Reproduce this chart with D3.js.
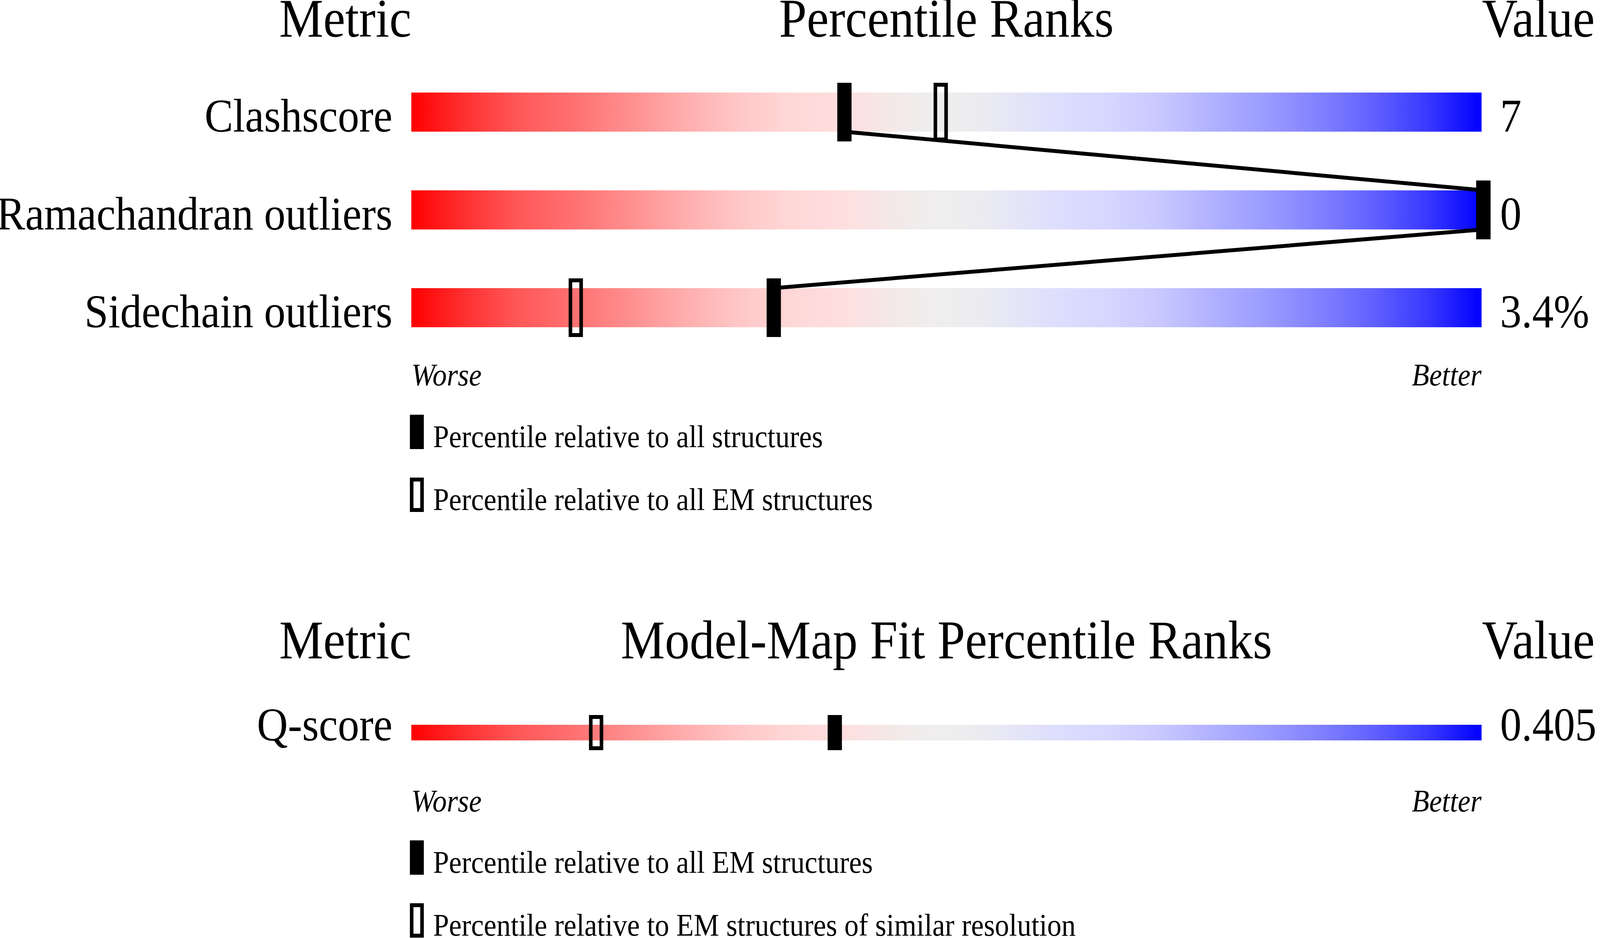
<!DOCTYPE html>
<html>
<head>
<meta charset="utf-8">
<script src="https://cdn.jsdelivr.net/npm/d3@7"></script>
<style>
  html, body { margin: 0; padding: 0; background: #ffffff; overflow: hidden; width: 100%; height: 100%; }
  svg { display: block; }
  text { font-family: "Liberation Serif", "Times New Roman", serif; fill: #000; }
</style>
</head>
<body>
<script>
// ---------------- data ----------------
const headers1 = ["Metric", "Percentile Ranks", "Value"];
const metrics = ["Clashscore", "Ramachandran outliers", "Sidechain outliers"];
const metricValues = ["7", "0", "3.4%"];
const pctAll = [40.3, 100, 33.7];   // percentile relative to all structures
const pctEM = [49.3, 100, 15.2];    // percentile relative to all EM structures
const legend1 = ["Percentile relative to all structures", "Percentile relative to all EM structures"];

const headers2 = ["Metric", "Model-Map Fit Percentile Ranks", "Value"];
const fitMetrics = ["Q-score"];
const fitValues = ["0.405"];
const fitPctEM = [39.4];            // percentile relative to all EM structures
const fitPctRes = [17.1];           // percentile relative to EM structures of similar resolution
const legend2 = ["Percentile relative to all EM structures", "Percentile relative to EM structures of similar resolution"];

const axisEnds = ["Worse", "Better"];

// gradient stops (percent -> colour) read from the slider
const gradOffsets = [0, 5, 10, 15, 20, 25, 30, 35, 40, 43, 47, 50, 53, 57, 60, 65, 70, 75, 80, 85, 90, 95, 100];
const gradColors = ["#ff0000", "#ff3030", "#ff5858", "#ff7070", "#ff8c8c", "#ffaaaa", "#ffc4c4", "#ffd6d6",
                    "#ffdede", "#f8e4e4", "#f0ecec", "#eeeeee", "#ececf0", "#e4e4f8", "#dedefd", "#d6d6ff",
                    "#c8c8ff", "#b0b0ff", "#9a9aff", "#8080ff", "#6060ff", "#3838ff", "#0000ff"];

// ---------------- layout ----------------
const W = 4485, H = 2402;
const svg = d3.select("body").append("svg")
  .attr("viewBox", `0 0 ${W} ${H}`)
  .attr("preserveAspectRatio", "none")
  .style("width", "100vw").style("height", "100vh");
svg.append("rect").attr("width", W).attr("height", H).attr("fill", "#fff");

const defs = svg.append("defs");
const grad = defs.append("linearGradient").attr("id", "slider").attr("x1", "0%").attr("x2", "100%").attr("y1", "0%").attr("y2", "0%");
grad.selectAll("stop").data(gradOffsets).join("stop")
  .attr("offset", d => d + "%")
  .attr("stop-color", (d, i) => gradColors[i]);

const x = d3.scaleLinear().domain([0, 100]).range([1153, 4153]);
const markerOffset = 5, markerW = 40, markerOver = 25;
const labelX = 1100, valueX = 4205;
const headerSize = 139, labelSize = 120, smallSize = 80;

function panel(opts) {
  const g = svg.append("g");
  const y = d3.scaleBand().domain(opts.metrics).range(opts.yRange).paddingInner(0.6).paddingOuter(0);
  const bw = y.bandwidth();

  // headers
  g.append("text").attr("x", x(0)).attr("y", opts.headerY).attr("text-anchor", "end")
    .attr("font-size", headerSize).text(opts.headers[0]);
  g.append("text").attr("x", (x(0) + x(100)) / 2).attr("y", opts.headerY).attr("text-anchor", "middle")
    .attr("font-size", headerSize).text(opts.headers[1]);
  g.append("text").attr("x", x(100) + 1).attr("y", opts.headerY).attr("text-anchor", "start")
    .attr("font-size", headerSize).text(opts.headers[2]);

  // bars
  g.selectAll("rect.bar").data(opts.metrics).join("rect").attr("class", "bar")
    .attr("x", x(0)).attr("width", x(100) - x(0))
    .attr("y", d => y(d)).attr("height", bw)
    .attr("fill", "url(#slider)");

  // labels
  g.selectAll("text.lab").data(opts.metrics).join("text").attr("class", "lab")
    .attr("x", labelX).attr("y", d => y(d) + bw).attr("text-anchor", "end")
    .attr("font-size", labelSize).text(d => d);
  g.selectAll("text.val").data(opts.values).join("text").attr("class", "val")
    .attr("x", valueX).attr("y", (d, i) => y(opts.metrics[i]) + bw).attr("text-anchor", "start")
    .attr("font-size", labelSize).text(d => d);

  // connecting line through filled markers
  if (opts.metrics.length > 1) {
    const pts = [];
    opts.metrics.forEach((m, i) => {
      const cx = x(opts.filled[i]) + markerOffset;
      if (i > 0) pts.push([cx, y(m)]);
      if (i < opts.metrics.length - 1) pts.push([cx, y(m) + bw]);
    });
    g.append("path").attr("d", d3.line()(pts)).attr("fill", "none")
      .attr("stroke", "#000").attr("stroke-width", 10).attr("stroke-linejoin", "miter");
  }

  // open markers
  g.selectAll("rect.open").data(opts.open).join("rect").attr("class", "open")
    .attr("x", d => x(d) + markerOffset - markerW / 2 + 5)
    .attr("width", markerW - 10)
    .attr("y", (d, i) => y(opts.metrics[i]) - markerOver + 5)
    .attr("height", bw + 2 * markerOver - 10)
    .attr("fill", "none").attr("stroke", "#000").attr("stroke-width", 10);

  // filled markers
  g.selectAll("rect.fill").data(opts.filled).join("rect").attr("class", "fill")
    .attr("x", d => x(d) + markerOffset - markerW / 2)
    .attr("width", markerW)
    .attr("y", (d, i) => y(opts.metrics[i]) - markerOver)
    .attr("height", bw + 2 * markerOver)
    .attr("fill", "#000");

  // worse / better
  g.append("text").attr("x", x(0)).attr("y", opts.endsY).attr("font-size", smallSize)
    .attr("font-style", "italic").text(axisEnds[0]);
  g.append("text").attr("x", x(100)).attr("y", opts.endsY).attr("text-anchor", "end")
    .attr("font-size", smallSize).attr("font-style", "italic").text(axisEnds[1]);

  // legend
  const lg = g.selectAll("g.leg").data(opts.legend).join("g").attr("class", "leg")
    .attr("transform", (d, i) => `translate(0,${opts.legendY + i * 161})`);
  lg.append("rect")
    .attr("x", (d, i) => i === 0 ? x(0) - 4 : x(0) - 4 + 5)
    .attr("y", (d, i) => i === 0 ? 0 : 5)
    .attr("width", (d, i) => i === 0 ? 39 : 29)
    .attr("height", (d, i) => i === 0 ? 88 : 78)
    .attr("fill", (d, i) => i === 0 ? "#000" : "none")
    .attr("stroke", (d, i) => i === 0 ? "none" : "#000")
    .attr("stroke-width", 10);
  lg.append("text").attr("x", x(0) + 61).attr("y", 83).attr("font-size", smallSize).text(d => d);
}

panel({
  headers: headers1, metrics: metrics, values: metricValues,
  filled: pctAll, open: pctEM, legend: legend1,
  headerY: 94, yRange: [237, 838], endsY: 987, legendY: 1062
});

panel({
  headers: headers2, metrics: fitMetrics, values: fitValues,
  filled: fitPctEM, open: fitPctRes, legend: legend2,
  headerY: 1686, yRange: [1826, 1926], endsY: 2078, legendY: 2152
});
</script>
</body>
</html>
